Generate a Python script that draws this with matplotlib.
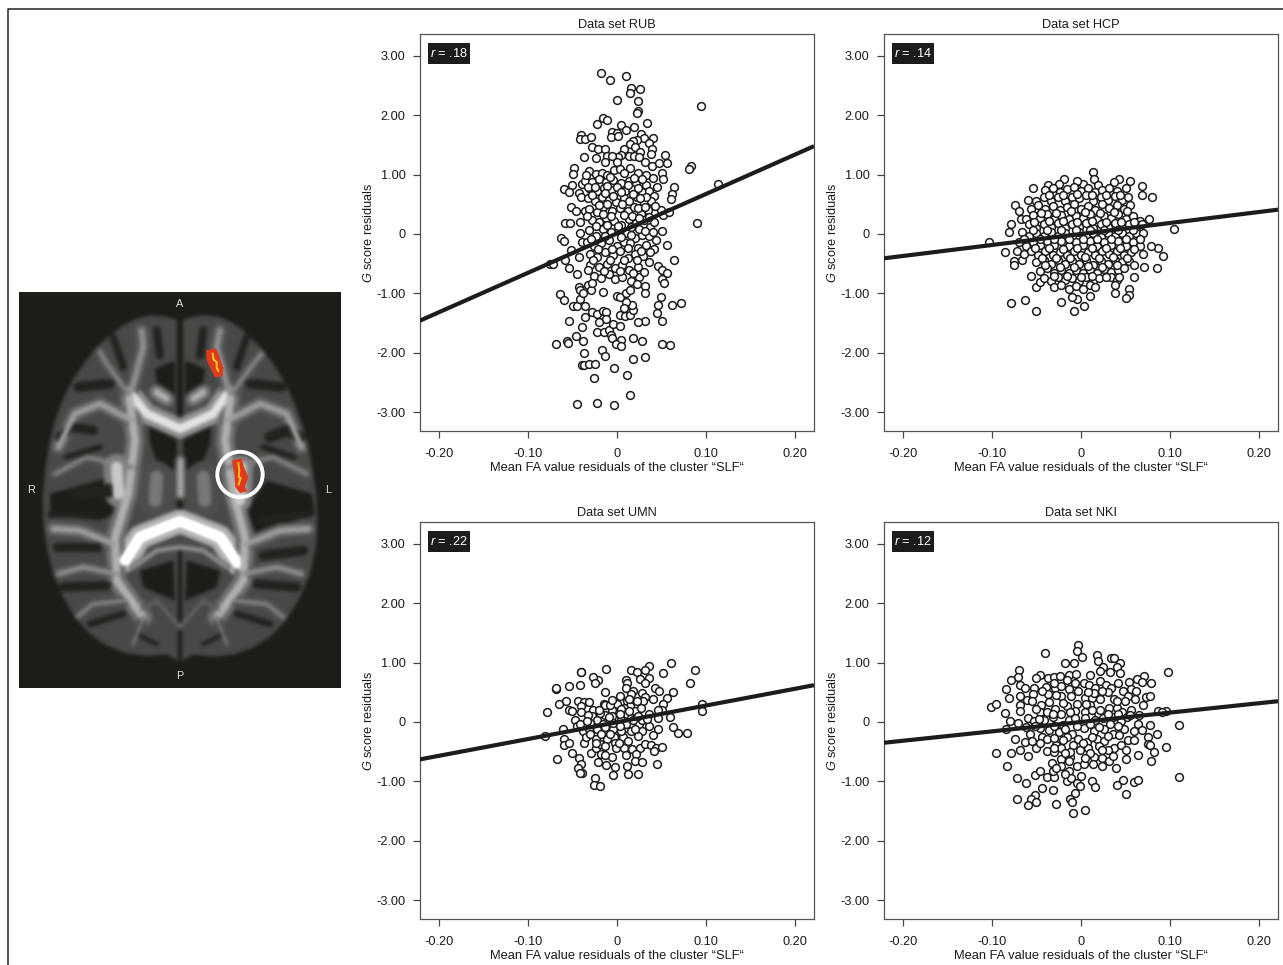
import numpy as np
import matplotlib
matplotlib.use("Agg")
import matplotlib.pyplot as plt
from matplotlib.patches import Circle, Polygon, Rectangle

plt.rcParams["font.family"] = ["Liberation Sans", "DejaVu Sans"]
plt.rcParams["mathtext.fontset"] = "custom"
plt.rcParams["mathtext.it"] = "Liberation Sans:italic"
plt.rcParams["mathtext.rm"] = "Liberation Sans"

W, H = 1283, 965

# (FA residual, G residual)
rub_pts = [(-.018,2.71),(-.008,2.6),(.01,2.66),(.016,2.46),(.015,2.37),(.026,2.44),(0,2.25),(.024,2.24),(.024,2.08),(.022,2.04),(.094,2.15),
 (-.016,1.95),(-.011,1.92),(-.022,1.86),(.004,1.84),(.034,1.87),(.019,1.81),(.01,1.75),(-.006,1.72),(0,1.7),(-.007,1.64),(.001,1.65),
 (-.04,1.66),(-.042,1.6),(-.036,1.6),(-.029,1.64),(.027,1.69),(.03,1.62),(.023,1.58),(.041,1.61),(.036,1.54),(.018,1.56),(.015,1.51),
 (-.028,1.47),(-.021,1.43),(-.013,1.43),(.008,1.44),(.02,1.47),(.039,1.44),(.054,1.33),(.038,1.34),(.026,1.38),(.013,1.32),(.005,1.33),
 (.001,1.3),(-.011,1.31),(-.006,1.31),(-.024,1.28),(-.037,1.29),(-.014,1.21),(0,1.22),(.019,1.31),(.025,1.29),(.031,1.21),(.039,1.15),
 (.047,1.19),(.056,1.19),(.083,1.15),(.081,1.09),(-.048,1.11),(-.049,1.01),(.113,.85),(.09,.18),(.064,.79),(.062,.67),(.061,.59),
 (-.06,.76),(-.051,.82),(-.054,.7),(-.039,.85),(-.043,.69),(-.04,.62),(-.052,.45),(-.046,.38),(-.058,.19),(-.053,.19),(-.042,.21),(-.036,.39),
 (-.063,-.06),(-.06,-.12),(-.042,.01),(-.075,-.51),(-.072,-.5),(-.058,-.43),(-.052,-.27),(-.054,-.57),(-.045,-.67),(-.043,-.38),(-.039,-.13),
 (.051,.05),(.056,-.19),(.064,-.43),(.046,-.54),(.051,-.6),(.056,-.66),(.051,-.76),(.053,-.82),(.036,-.47),(.032,-.87),(.032,-1.0),
 (-.064,-1.01),(-.06,-1.12),(-.049,-1.21),(-.045,-1.21),(-.042,-1.09),(-.043,-.9),(-.042,-.95),(-.033,-.86),(-.036,-1.21),(-.036,-1.4),(-.054,-1.46),(-.039,-1.57),
 (.049,-1.06),(.046,-1.2),(.045,-1.33),(.062,-1.19),(.072,-1.17),(.05,-1.47),(.031,-1.46),(.024,-1.48),
 (-.069,-1.86),(-.056,-1.8),(-.055,-1.83),(-.046,-1.72),(-.038,-1.81),(-.023,-1.65),(-.015,-1.65),(-.009,-1.62),(-.007,-1.71),(-.006,-1.75),(.005,-1.79),(-.001,-1.85),(.005,-1.88),
 (.018,-1.75),(.028,-1.81),(.051,-1.85),(.06,-1.87),(-.037,-2.01),(-.017,-1.96),(-.014,-2.05),(.018,-2.11),(.031,-2.08),(-.039,-2.2),(-.037,-2.2),(-.032,-2.19),(-.025,-2.19),
 (-.003,-2.26),(.011,-2.37),(-.026,-2.43),(.015,-2.71),(-.045,-2.87),(-.022,-2.85),(-.003,-2.89),
 (-.028,-1.31),(-.023,-1.35),(-.016,-1.29),(-.012,-1.31),(-.012,-1.44),(-.02,-1.49),(-.005,-1.51),(.003,-1.55),(.003,-1.37),(.009,-1.38),(.015,-1.37),(.018,-1.28),(.017,-1.19),(.01,-1.14),(.008,-1.24),
 (0,-1.04),(.003,-1.06),(.01,-1.0),(.015,-.94),(-.016,-.97),(-.029,-.94),(-.038,-1.0),
 (-.031,1.06),(-.024,1.01),(-.017,1.02),(-.011,1.0),(-.003,1.07),(.003,1.1),(.015,1.12),(.024,1.02),(.033,.99),(.041,.95),(.05,1.02),(.052,.92),
 (-.036,.9),(-.028,.88),(-.02,.93),(-.012,.87),(-.004,.91),(.005,.86),(.013,.9),(.021,.84),(.033,.83),(.045,.8),(-.03,.75),(-.022,.72),(-.015,.78),(-.007,.74),(0,.79),(.009,.73),(.017,.76),(.028,.7),(.036,.72),(.042,.64),
 (-.033,.6),(-.025,.55),(-.017,.62),(-.009,.58),(-.001,.54),(.008,.6),(.014,.56),(.022,.62),(.03,.53),(.038,.56),(.049,.4),(-.031,.42),(-.023,.37),(-.016,.45),(-.006,.39),(.003,.44),(.012,.38),(.019,.46),(.027,.34),(.035,.4),(.052,.32),(.058,.37),
 (-.028,.24),(-.02,.2),(-.012,.27),(-.003,.22),(.005,.15),(.013,.26),(.021,.18),(.03,.23),(.037,.12),(.042,.2),(-.032,.06),(-.024,-.04),(-.016,.09),(-.007,.03),(.002,.07),(.011,.02),(.02,-.06),(.028,-.02),(.036,-.04),(.044,-.1),
 (-.034,-.14),(-.026,-.2),(-.018,-.15),(-.009,-.1),(0,-.2),(.008,-.13),(.015,-.16),(.024,-.24),(.033,-.18),(.042,-.26),(-.03,-.33),(-.022,-.38),(-.014,-.3),(-.005,-.36),(.003,-.28),(.012,-.4),(.02,-.33),(.029,-.37),
 (-.03,-.52),(-.02,-.56),(-.011,-.5),(-.002,-.58),(.006,-.52),(.014,-.6),(.024,-.55),(.025,-.72),(-.026,-.7),(-.018,-.75),(-.009,-.68),(-.002,-.76),(.006,-.72),(.016,-.79),(.022,-.84),(-.028,-.82),
 (-.035,1.0),(-.008,.96),(.008,1.02),(.019,.95),(.028,.92),(-.033,.8),(-.025,.8),(-.011,.81),(.004,.7),(.012,.82),(.024,.77),(.033,.63),(-.028,.66),(-.013,.69),(-.004,.64),(.018,.68),(.026,.6),(-.02,.49),(-.011,.5),(.006,.5),(.024,.44),(.031,.46),(.043,.47),
 (-.034,.3),(-.016,.33),(-.007,.3),(.008,.32),(.017,.31),(.025,.27),(.036,.28),(-.024,.13),(-.011,.15),(.001,.13),(.016,.11),(.025,.09),(.031,.05),(.04,.04),(-.029,-.09),(-.013,-.04),(.005,-.05),(.016,-.02),(-.021,-.26),(-.006,-.26),(.012,-.24),(.027,-.28),(.037,-.3),(-.027,-.44),(-.008,-.43),(.008,-.44),(.023,-.44),(-.033,-.6),(-.015,-.63),(.003,-.63),(.018,-.66),(.03,-.64)]

hcp_pts = [(-.103,-.13),(.105,.08),(-.079,-1.16),(-.063,-1.12),(-.051,-1.29),(-.022,-1.15),(-.008,-1.3),(.003,-1.21),(-.004,-1.1),(-.01,-1.07),(.01,-1.05),(.038,-.99),(.054,-.93),(.054,-1.02),(.051,-1.08),
 (.06,-.73),(.071,-.56),(.085,-.58),(.092,-.37),(.087,-.24),(.079,-.2),(.07,-.33),(.08,.63),(.068,.66),(.068,.81),(.055,.9),(.043,.92),(.037,.88),(.014,1.04),(.015,.93),(.019,.83),(.002,.84),(-.005,.89),(-.019,.92),(-.025,.85),(-.037,.83),(-.054,.78),
 (-.06,.57),(-.074,.48),(-.07,.39),(-.067,.26),(-.079,.17),(-.081,.04),(-.085,-.3),(-.075,-.45),(-.075,-.52),(-.066,-.43),(-.056,-.7),(-.05,-.9),(-.046,-.81),
 (-.04,.74),(-.032,.78),(-.024,.7),(-.016,.76),(-.008,.8),(0,.72),(.008,.77),(.016,.7),(.024,.74),(.032,.77),(.041,.72),(.05,.78),(-.05,.56),(-.042,.62),(-.034,.56),(-.026,.63),(-.018,.56),(-.01,.62),(-.002,.6),(.006,.65),(.014,.56),(.022,.62),(.03,.58),(.038,.64),(.046,.58),(.053,.62),
 (-.056,.42),(-.048,.48),(-.04,.42),(-.032,.47),(-.024,.4),(-.016,.45),(-.008,.5),(0,.42),(.008,.47),(.016,.41),(.024,.5),(.032,.44),(.04,.48),(.048,.42),(.055,.48),
 (-.062,.26),(-.054,.32),(-.046,.27),(-.038,.33),(-.03,.26),(-.022,.32),(-.014,.25),(-.006,.31),(.002,.27),(.01,.34),(.018,.26),(.026,.31),(.034,.27),(.042,.33),(.05,.26),(.058,.31),(.066,.22),(.076,.25),
 (-.058,.16),(-.05,.1),(-.042,.17),(-.034,.11),(-.026,.18),(-.018,.1),(-.01,.16),(-.002,.12),(.006,.18),(.014,.1),(.022,.16),(.03,.11),(.038,.18),(.046,.11),(.054,.16),(.062,.12),(.069,.16),
 (-.066,.03),(-.058,-.04),(-.05,.02),(-.042,-.03),(-.034,.04),(-.026,-.04),(-.018,.01),(-.01,-.05),(-.002,.03),(.006,-.03),(.014,.02),(.022,-.05),(.03,.02),(.038,-.03),(.046,.01),(.054,-.04),(.062,.02),(.07,.01),
 (-.07,-.14),(-.062,-.2),(-.054,-.13),(-.046,-.19),(-.038,-.12),(-.03,-.18),(-.022,-.12),(-.014,-.2),(-.006,-.14),(.002,-.19),(.01,-.12),(.018,-.2),(.026,-.13),(.034,-.19),(.042,-.12),(.05,-.2),(.058,-.14),(.066,-.2),
 (-.072,-.29),(-.064,-.33),(-.056,-.29),(-.048,-.36),(-.04,-.28),(-.032,-.35),(-.024,-.3),(-.016,-.36),(-.008,-.28),(0,-.35),(.008,-.3),(.016,-.36),(.024,-.29),(.032,-.34),(.04,-.28),(.048,-.35),(.056,-.3),
 (-.05,-.48),(-.042,-.44),(-.034,-.5),(-.026,-.44),(-.018,-.51),(-.01,-.45),(-.002,-.5),(.006,-.44),(.014,-.52),(.022,-.45),(.03,-.5),(.038,-.44),(.046,-.48),(.054,-.46),(.059,-.52),
 (-.046,-.62),(-.038,-.58),(-.03,-.65),(-.022,-.6),(-.014,-.66),(-.006,-.6),(.002,-.66),(.01,-.6),(.018,-.65),(.026,-.59),(.034,-.64),(.042,-.6),(.048,-.58),
 (-.042,-.74),(-.034,-.79),(-.026,-.72),(-.018,-.78),(-.01,-.74),(-.002,-.8),(.006,-.73),(.014,-.79),(.02,-.74),(.034,-.72),(.04,-.78),(.043,-.72),
 (-.03,-.9),(-.022,-.86),(-.014,-.93),(-.006,-.87),(.002,-.92),(.01,-.86),(.016,-.9),(.038,-.86),
 (-.036,.66),(-.02,.66),(-.004,.68),(.012,.66),(.028,.66),(.044,.66),(-.045,.35),(-.028,.36),(-.011,.38),(.005,.37),(.021,.36),(.037,.37),(.052,.38),(-.053,.21),(-.036,.22),(-.02,.22),(-.004,.2),(.012,.22),(.028,.21),(.045,.21),(.06,.2),(-.054,.07),(-.038,.06),(-.022,.06),(-.006,.07),(.01,.06),(.026,.06),(.042,.07),(.058,.07),
 (-.064,-.09),(-.046,-.08),(-.03,-.09),(-.014,-.09),(.002,-.09),(.018,-.08),(.034,-.08),(.05,-.08),(.066,-.08),(-.052,-.24),(-.036,-.24),(-.02,-.25),(-.004,-.24),(.012,-.24),(.028,-.24),(.044,-.24),(.06,-.25),(-.044,-.4),(-.028,-.4),(-.012,-.4),(.004,-.39),(.02,-.4),(.036,-.39),(.052,-.4),(-.04,-.53),(-.024,-.55),(-.008,-.55),(.008,-.54),(.024,-.55),(.04,-.53),(-.03,-.7),(-.016,-.7),(0,-.72),(.012,-.71),(.028,-.72)]

umn_pts = [(.061,1.0),(.088,.88),(.036,.94),(.031,.88),(.016,.88),(.023,.85),(.052,.82),(-.012,.9),(-.04,.85),(-.04,.84),(.082,.66),(.036,.74),(.026,.72),(.031,.66),(.01,.7),(.011,.65),(.01,.58),(-.021,.71),(-.027,.75),(-.025,.65),(-.042,.62),(-.054,.61),(-.069,.56),(-.068,.57),
 (-.013,.51),(.043,.57),(.047,.52),(.063,.51),(.018,.53),(.016,.47),(.028,.48),(.003,.44),(.056,.41),(.04,.38),(.032,.42),(.029,.35),(-.057,.35),(-.065,.31),(-.079,.17),(-.044,.35),(-.037,.34),(-.031,.33),(-.04,.27),(-.054,.2),(-.051,.19),(-.04,.16),(-.027,.2),(-.015,.31),(-.013,.29),(0,.3),(.011,.35),(.015,.27),(.023,.35),(.008,.24),(-.006,.2),(-.013,.12),(-.028,.1),(-.047,.04),(-.023,.04),(0,.07),(.011,.13),(.02,.19),(.036,.14),(.052,.31),(.05,.2),(.046,.21),(.059,.09),(.046,.06),(.095,.3),(.096,.18),
 (-.081,-.24),(-.061,-.11),(-.045,-.06),(-.038,-.15),(-.022,-.12),(-.012,-.13),(-.005,-.12),(.009,-.1),(.025,-.03),(.036,-.07),(.046,-.12),(.063,-.08),(.069,-.19),(.079,-.19),(.028,-.16),(.04,-.22),(.024,-.24),(.006,-.25),(-.003,-.26),(-.011,-.28),(-.024,-.28),(-.037,-.35),(-.06,-.28),(-.06,-.38),(-.054,-.36),(-.051,-.52),(-.067,-.62),(-.043,-.61),(-.029,-.53),(-.024,-.43),(-.019,-.37),(-.002,-.35),(-.001,-.44),(.008,-.44),(.017,-.46),(.026,-.43),(.032,-.37),(.038,-.39),(.044,-.43),(.042,-.49),(.051,-.42),(.021,-.54),(.02,-.66),(.028,-.68),(.045,-.71),(-.006,-.59),(-.018,-.54),(-.021,-.67),(-.012,-.72),(-.002,-.76),(.011,-.75),(.012,-.88),(.024,-.88),(-.005,-.9),(-.04,-.71),(-.044,-.78),(-.039,-.86),(-.042,-.86),(-.025,-.95),(-.026,-1.06),(-.019,-1.08),(.007,-.26),(-.013,-.4),(-.024,-.35),(-.035,-.26),
 (-.033,.12),(-.019,.15),(-.006,.1),(.005,.03),(.016,.06),(.028,.03),(-.03,-.02),(-.016,-.03),(-.004,-.02),(.01,-.03),(.018,.03),(-.042,-.03),(-.032,-.11),(-.018,-.2),(.004,-.16),(.016,-.15),(-.008,.29),(.004,.22),(.014,.38),(-.006,.37),(.02,-.12),
 (-.02,.21),(-.009,.09),(.003,.14),(.024,.1),(.034,.05),(-.014,-.08),(.003,-.06),(.014,.18),(.027,.24),(-.034,.02),(-.03,-.2),(-.008,-.2),(.012,-.32),(.002,-.36),(-.014,-.55),(.01,-.55)]

nki_pts = [(-.003,1.3),(-.004,1.19),(.001,1.1),(-.04,1.16),(-.018,1.0),(-.008,.99),(.018,1.13),(.019,1.03),(.025,.93),(.034,1.07),(.037,1.07),(.044,1.0),(.04,.93),(.098,.85),(-.07,.87),(-.071,.75),(-.079,.71),(-.046,.8),(-.05,.74),(-.037,.74),(-.03,.76),(-.024,.78),(-.014,.79),(-.006,.81),(.01,.8),(.021,.86),(.033,.84),(.044,.82),(.071,.78),(.063,.72),(.069,.67),(.054,.68),(.079,.65),
 (-.084,.55),(-.069,.62),(-.063,.57),(-.053,.58),(-.039,.59),(-.029,.57),(-.023,.61),(-.014,.55),(-.007,.66),(.003,.66),(.009,.63),(.016,.58),(.021,.69),(.028,.63),(.034,.58),(.042,.66),(.047,.53),(.053,.44),(-.081,.41),(-.069,.43),(-.061,.37),(-.054,.47),(-.055,.35),(-.037,.47),(-.023,.43),(-.011,.43),(.004,.41),(.012,.41),(.021,.38),(.037,.39),(.049,.35),(.061,.38),(.073,.42),(.078,.44),
 (-.101,.25),(-.095,.31),(-.069,.29),(-.045,.29),(-.036,.34),(-.016,.27),(-.005,.3),(.01,.29),(.031,.23),(.04,.23),(.056,.21),(.07,.29),(-.085,.15),(-.069,.19),(-.06,.06),(-.046,.16),(-.038,.17),(-.029,.22),(-.007,.19),(.004,.17),(.021,.2),(.046,.17),(.086,.19),(.096,.18),(.091,.17),
 (-.08,.02),(-.071,-.02),(-.053,.01),(-.042,.03),(-.031,.08),(-.014,.03),(.011,.1),(.025,.06),(.036,.08),(.064,-.03),(.077,-.05),(.11,-.05),(-.084,-.11),(-.057,-.21),(-.046,-.1),(-.036,-.14),(-.025,-.17),(-.01,-.21),(.003,-.1),(.015,-.16),(.026,-.12),(.036,-.21),(.048,-.12),(.059,-.15),
 (-.074,-.28),(-.063,-.34),(-.055,-.32),(-.044,-.25),(-.038,-.29),(-.028,-.39),(-.016,-.26),(-.009,-.38),(.007,-.34),(.018,-.29),(.026,-.32),(.043,-.22),(.053,-.31),(.075,-.25),(.085,-.21),(-.095,-.53),(-.079,-.52),(-.068,-.48),(-.06,-.58),(-.05,-.44),(-.038,-.49),(-.022,-.43),(-.001,-.48),(.008,-.44),(.02,-.4),(.037,-.44),(.045,-.39),(.075,-.37),(.077,-.39),(.095,-.42),(.082,-.5),
 (-.083,-.75),(-.033,-.69),(-.023,-.63),(-.012,-.59),(.015,-.59),(.024,-.6),(.031,-.66),(.036,-.58),(.051,-.63),(.064,-.56),(.079,-.66),(-.072,-.94),(-.062,-1.02),(-.052,-.89),(-.046,-.83),(-.038,-.92),(-.03,-.93),(-.032,-.83),(-.022,-.74),(-.014,-.83),(-.004,-.74),(.003,-.7),(.024,-.75),(.039,-.78),(.11,-.92),
 (-.016,-.99),(-.011,-.94),(-.004,-1.03),(0,-.91),(-.001,-1.08),(.012,-.99),(.016,-1.1),(.041,-1.07),(.047,-.97),(.059,-1.01),(.064,-.98),(.051,-1.22),(-.044,-1.11),(-.032,-1.15),(-.007,-1.2),(-.072,-1.29),(-.052,-1.23),(-.056,-1.29),(-.05,-1.35),(-.059,-1.4),(-.028,-1.38),(-.012,-1.29),(-.01,-1.35),(-.009,-1.53),(.005,-1.49),
 (-.028,.45),(-.02,.32),(-.003,.52),(.006,.3),(.015,.48),(.03,.5),(.04,.36),(-.047,.05),(-.022,.14),(-.007,.07),(.004,.06),(.016,.03),(.045,.02),(.052,.09),(-.03,-.06),(-.02,-.05),(-.005,-.06),(.01,-.04),(.02,-.09),(.033,-.03),(.042,-.07),(-.03,-.27),(-.02,-.3),(-.003,-.28),(.012,-.25),(.03,-.24),(-.03,-.5),(-.012,-.5),(.002,-.36),(.03,-.47),
 (-.044,.52),(-.03,.66),(-.016,.7),(.008,.5),(.024,.52),(.056,.55),(.062,.52),(-.05,.22),(-.032,.13),(-.012,.17),(.012,.2),(.03,.14),(.055,.12),(.065,.12),(-.062,-.08),(-.052,-.06),(-.018,-.12),(.042,.13),(.068,-.13),(-.046,-.36),(-.03,-.44),(-.018,-.52),(.01,-.52),(.024,-.47),(.05,-.48),(.06,-.3),(-.014,-.66),(.005,-.6),(-.028,-.78),(-.018,-.88),(.013,-.7)]

panels = [("Data set RUB", ".18", rub_pts, (-1.46, 1.48)),
          ("Data set HCP", ".14", hcp_pts, (-.41, .41)),
          ("Data set UMN", ".22", umn_pts, (-.63, .62)),
          ("Data set NKI", ".12", nki_pts, (-.35, .35))]
axes_px = [(420, 34), (884, 34), (420, 522), (884, 522)]
x_ticks = [-.2, -.1, 0, .1, .2]
x_labels = ["-0.20", "-0.10", "0", "0.10", "0.20"]
y_ticks = [3, 2, 1, 0, -1, -2, -3]
y_labels = ["3.00", "2.00", "1.00", "0", "-1.00", "-2.00", "-3.00"]
XLIM = (-.2213, .2213)
YLIM = (-3.32, 3.37)
FS = 9.2

fig = plt.figure(figsize=(W / 100, H / 100), dpi=100, facecolor="white")


def px_axes(x0, y0, w, h):
    return fig.add_axes([x0 / W, 1 - (y0 + h) / H, w / W, h / H])


# outer frame: left and top only
fr = fig.add_axes([0, 0, 1, 1], zorder=-5)
fr.set_xlim(0, W); fr.set_ylim(H, 0); fr.axis("off")
fr.plot([8, 8, W], [H, 8.5, 8.5], color="#222222", lw=1.1)

for (title, r, pts, line), (px, py) in zip(panels, axes_px):
    ax = px_axes(px, py, 394, 397)
    pts = np.array(pts)
    ax.plot(pts[:, 0], pts[:, 1], "o", mfc="white", mec="#1c1c1c", ms=5.6, mew=1.1, ls="none", zorder=2)
    ax.plot(XLIM, line, color="#1c1c1c", lw=3.0, zorder=3, solid_capstyle="butt")
    ax.set_xlim(*XLIM); ax.set_ylim(*YLIM)
    ax.set_xticks(x_ticks); ax.set_xticklabels(x_labels)
    ax.set_yticks(y_ticks); ax.set_yticklabels(y_labels)
    ax.tick_params(length=5, width=.9, color="#444444", labelsize=FS, labelcolor="#1a1a1a", pad=5.5)
    ax.tick_params(axis="x", pad=7)
    for s in ax.spines.values():
        s.set_color("#555555"); s.set_linewidth(.9)
    ax.set_title(title, fontsize=FS, color="#1a1a1a", pad=4)
    ax.set_xlabel("Mean FA value residuals of the cluster \u201cSLF\u201c", fontsize=9.3, color="#1a1a1a", labelpad=1.5)
    ax.set_ylabel(r"$\mathit{G}$ score residuals", fontsize=FS, color="#1a1a1a", labelpad=1)
    ax.add_patch(Rectangle((8 / 394, 1 - 30 / 397), 42 / 394, 21 / 397, transform=ax.transAxes, fc="#1c1c1c", ec="none", zorder=4))
    ax.text(29 / 394, 1 - 19.5 / 397, r"$\mathit{r}$ = " + r, transform=ax.transAxes, color="white", fontsize=FS, ha="center", va="center", zorder=5)

# brain section: strokes in zoom coordinates, drawn once offscreen and blurred
BX0, BX1, BY0, BY1 = 57, 1023, 35, 1222
outline = [(540,122),(495,108),(450,105),(410,115),(370,135),(330,165),(290,200),(255,245),(220,295),(190,355),(165,420),(148,490),(135,570),(128,650),(130,730),(142,810),(160,880),(190,950),(225,1010),(270,1060),(320,1095),(380,1118),(440,1126),(500,1122),(525,1135),(540,1150),
           (555,1135),(580,1122),(640,1128),(700,1122),(760,1100),(815,1065),(860,1015),(900,950),(930,880),(948,800),(952,720),(948,640),(935,550),(915,460),(890,385),(860,315),(820,250),(775,195),(730,150),(690,122),(650,108),(605,105),(570,112)]
white_tracts = [([(392,340),(440,400),(540,445),(640,400),(688,330)], 26, .8),
                ([(375,840),(420,770),(540,722),(660,770),(715,850)], 30, 1.0),
                ([(385,330),(405,480),(385,640),(345,770),(350,900),(430,1010)], 24, .62),
                ([(695,330),(675,480),(700,640),(735,770),(730,900),(650,1010)], 24, .62),
                ([(395,420),(300,370),(225,400),(175,500)], 18, .55),
                ([(685,420),(780,370),(860,400),(905,500)], 18, .55),
                ([(395,330),(430,200),(425,150)], 18, .5),
                ([(685,330),(650,200),(660,150)], 18, .5),
                ([(385,340),(320,250),(300,215)], 15, .45),
                ([(695,340),(760,250),(790,215)], 15, .45),
                ([(340,790),(240,750),(160,745)], 18, .55),
                ([(740,790),(840,750),(925,745)], 18, .55),
                ([(350,880),(250,860),(175,880)], 14, .5),
                ([(730,880),(830,860),(905,880)], 14, .5),
                ([(380,960),(280,970),(230,1010)], 13, .45),
                ([(700,960),(800,970),(850,1010)], 13, .45),
                ([(430,1010),(400,1090)], 12, .4),
                ([(650,1010),(680,1090)], 12, .4),
                ([(395,560),(260,530),(165,580)], 14, .45),
                ([(685,560),(820,530),(920,580)], 14, .45),
                ([(355,640),(350,560)], 34, .7),
                ([(720,660),(725,560)], 30, .72),
                ([(540,540),(540,640)], 14, .6),
                ([(470,590),(465,660)], 40, .42),
                ([(610,590),(615,660)], 40, .42),
                ([(400,860),(470,810),(540,800),(610,810),(680,860)], 9, .55),
                ([(420,990),(470,960),(540,1040)], 7, .4),
                ([(660,990),(610,960),(540,1040)], 7, .4),
                ([(470,335),(500,355)], 20, .62),
                ([(610,335),(580,355)], 20, .62)]
black_holes = [[(445,420),(530,465),(530,565),(480,570),(450,490)], [(635,420),(550,465),(550,565),(600,570),(630,490)],
               [(385,755),(500,715),(420,780),(390,805)], [(695,755),(580,715),(665,780),(692,805)],
               [(150,640),(330,590),(362,690),(300,720),(150,705)], [(935,640),(800,600),(730,700),(770,760),(945,700)],
               [(465,265),(525,240),(525,360),(470,320)], [(615,265),(555,240),(555,360),(610,320)],
               [(420,870),(520,840),(525,960),(430,920)], [(660,870),(560,840),(555,960),(650,920)],
               [(530,650),(550,650),(550,700),(530,700)], [(532,100),(548,100),(548,440),(532,440)], [(533,800),(547,800),(547,1150),(533,1150)]]
dark_sulci = [([(180,470),(215,440),(280,450)], 28), ([(900,470),(860,450),(810,470)], 34), ([(235,320),(330,310)], 30), ([(845,320),(750,310)], 30),
              ([(170,800),(290,800)], 28), ([(910,810),(790,825)], 30), ([(190,920),(320,915)], 28), ([(890,920),(770,910)], 28),
              ([(270,1030),(370,1000)], 20), ([(810,1030),(710,1000)], 20), ([(340,170),(370,260)], 22), ([(740,170),(710,260)], 22),
              ([(470,150),(480,225)], 24), ([(610,150),(600,225)], 24), ([(230,640),(330,630)], 40), ([(200,530),(300,500)], 18), ([(880,530),(790,500)], 18),
              ([(410,1060),(470,1090)], 14), ([(670,1060),(610,1090)], 14), ([(150,700),(280,700)], 20), ([(930,700),(780,720)], 22)]

bw, bh = 322, 396
off = plt.figure(figsize=(bw / 100, bh / 100), dpi=100, facecolor="black")
oa = off.add_axes([0, 0, 1, 1])
oa.set_xlim(BX0, BX1); oa.set_ylim(BY1, BY0); oa.axis("off")
oa.add_patch(Polygon(outline, closed=True, fc="0.23", ec="none"))
clip = Polygon(outline, closed=True, transform=oa.transData)
# wide halo under every tract, then its bright core
for pth, lw, g in white_tracts:
    p = np.array(pth)
    ln, = oa.plot(p[:, 0], p[:, 1], color=str(g * .62), lw=lw * .24 * 2.4, solid_capstyle="round", solid_joinstyle="round")
    ln.set_clip_path(clip)
for pth, lw in dark_sulci:
    p = np.array(pth)
    ln, = oa.plot(p[:, 0], p[:, 1], color="0.03", lw=lw * .24, solid_capstyle="round")
    ln.set_clip_path(clip)
for pth, lw, g in white_tracts:
    p = np.array(pth)
    ln, = oa.plot(p[:, 0], p[:, 1], color=str(g), lw=lw * .24, solid_capstyle="round", solid_joinstyle="round")
    ln.set_clip_path(clip)
for poly in black_holes:
    oa.add_patch(Polygon(poly, closed=True, fc="black", ec="none"))
off.canvas.draw()
raw = np.asarray(off.canvas.buffer_rgba())[:, :, 0].astype(float) / 255
plt.close(off)
fy = np.fft.fftfreq(raw.shape[0])[:, None]
fx = np.fft.rfftfreq(raw.shape[1])[None, :]
sig = 1.8
soft = np.fft.irfft2(np.fft.rfft2(raw) * np.exp(-2 * (np.pi * sig) ** 2 * (fx ** 2 + fy ** 2)), s=raw.shape)
soft = np.clip(soft * 1.12, 0, 1)
bg = np.array([.11, .11, .095])
rgb = np.clip(bg * (1 - soft[:, :, None] * 3).clip(0, 1) + soft[:, :, None], 0, 1)

bax = px_axes(19, 292, 322, 396)
bax.imshow(rgb, extent=(BX0, BX1, BY1, BY0), aspect="auto", interpolation="bilinear")
bax.set_xlim(BX0, BX1); bax.set_ylim(BY1, BY0)
bax.set_xticks([]); bax.set_yticks([])
for s in bax.spines.values():
    s.set_visible(False)

# significant clusters
bax.add_patch(Polygon([(618,210),(648,204),(657,225),(670,262),(668,287),(645,291),(632,265),(620,238)], fc="#e03a1c", ec="none"))
bax.plot([638,641,650,650,655], [220,238,245,262,272], color="#f5d21e", lw=1.4)
bax.add_patch(Polygon([(696,540),(725,534),(732,560),(745,590),(735,620),(742,632),(720,638),(706,620),(703,580)], fc="#e03a1c", ec="none"))
bax.plot([715,718,716,722,716], [548,570,590,592,612], color="#f5c21e", lw=1.4)
bax.add_patch(Circle((720, 582), 68, fc="none", ec="white", lw=2.8))
for lab, x, y in [("A", 539, 70), ("P", 539, 1186), ("R", 94, 628), ("L", 985, 628)]:
    bax.text(x, y, lab, color="#dddddd", fontsize=7.8, ha="center", va="center")

fig.savefig("out.png", dpi=100)
